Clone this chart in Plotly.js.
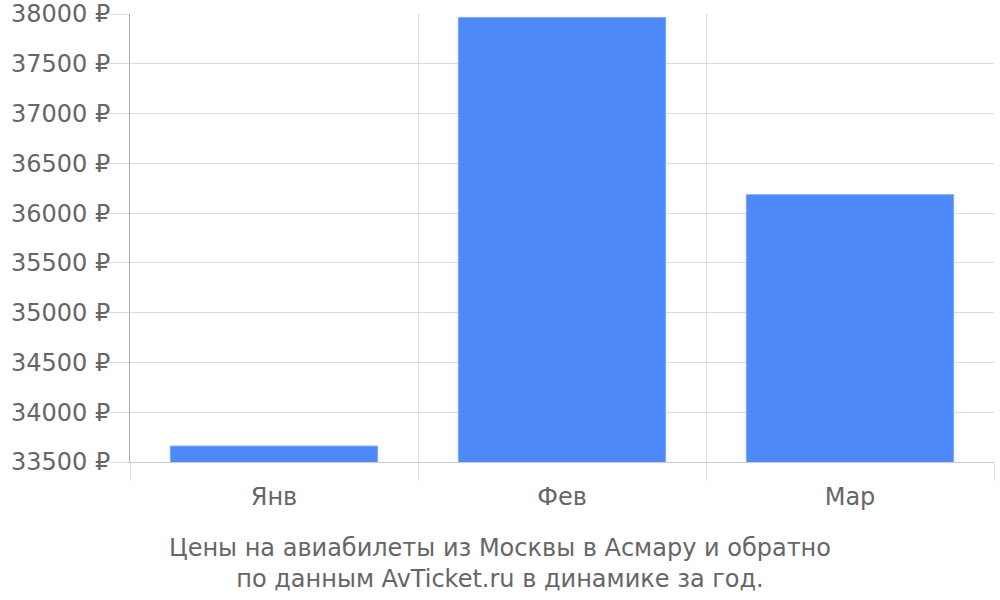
<!DOCTYPE html>
<html>
<head>
<meta charset="utf-8">
<script src="https://cdn.plot.ly/plotly-3.0.1.min.js"></script>
<style>
  body { margin: 0; background: #fff; }
  #chart { width: 1000px; height: 600px; }
</style>
</head>
<body>
<div id="chart"></div>
<script>
// months and prices
const months = ["Янв", "Фев", "Мар"];
const prices = [33660, 37965, 36185];

const titleLines = [
	"Цены на авиабилеты из Москвы в Асмару и обратно",
	"по данным AvTicket.ru в динамике за год."
];

const font = "DejaVu Sans, sans-serif";

var trace = {
	x: months,
	y: prices,
	type: 'bar',
	width: 0.72,
	marker: { color: '#4d89f9', line: { color: '#7ea9fb', width: 1 } },
	hoverinfo: 'none'
};

var layout = {
	width: 1000,
	height: 600,
	margin: { l: 130, r: 6, t: 14, b: 138 },
	paper_bgcolor: '#fff',
	plot_bgcolor: '#fff',
	font: { family: font, size: 24, color: '#666' },
	showlegend: false,
	title: {
		text: titleLines.join('<br>'),
		font: { size: 24, color: '#666' },
		x: 0.5,
		xref: 'container',
		xanchor: 'center',
		y: 0.074,
		yref: 'container',
		yanchor: 'middle'
	},
	xaxis: {
		type: 'category',
		tickson: 'boundaries',
		ticks: 'outside',
		ticklen: 18,
		tickcolor: '#ddd',
		ticklabelstandoff: 13,
		showgrid: true,
		gridcolor: '#ddd',
		showline: true,
		linecolor: '#ccc',
		tickfont: { size: 24, color: '#666' }
	},
	yaxis: {
		range: [33500, 38000],
		dtick: 500,
		tickformat: 'd',
		ticksuffix: ' ₽',
		ticks: 'outside',
		ticklen: 20,
		tickcolor: '#ddd',
		ticklabelstandoff: -6,
		gridcolor: '#ddd',
		showline: true,
		linecolor: '#aaa',
		zeroline: false,
		tickfont: { size: 24, color: '#666' }
	}
};

Plotly.newPlot('chart', [trace], layout, { staticPlot: true });
</script>
</body>
</html>
